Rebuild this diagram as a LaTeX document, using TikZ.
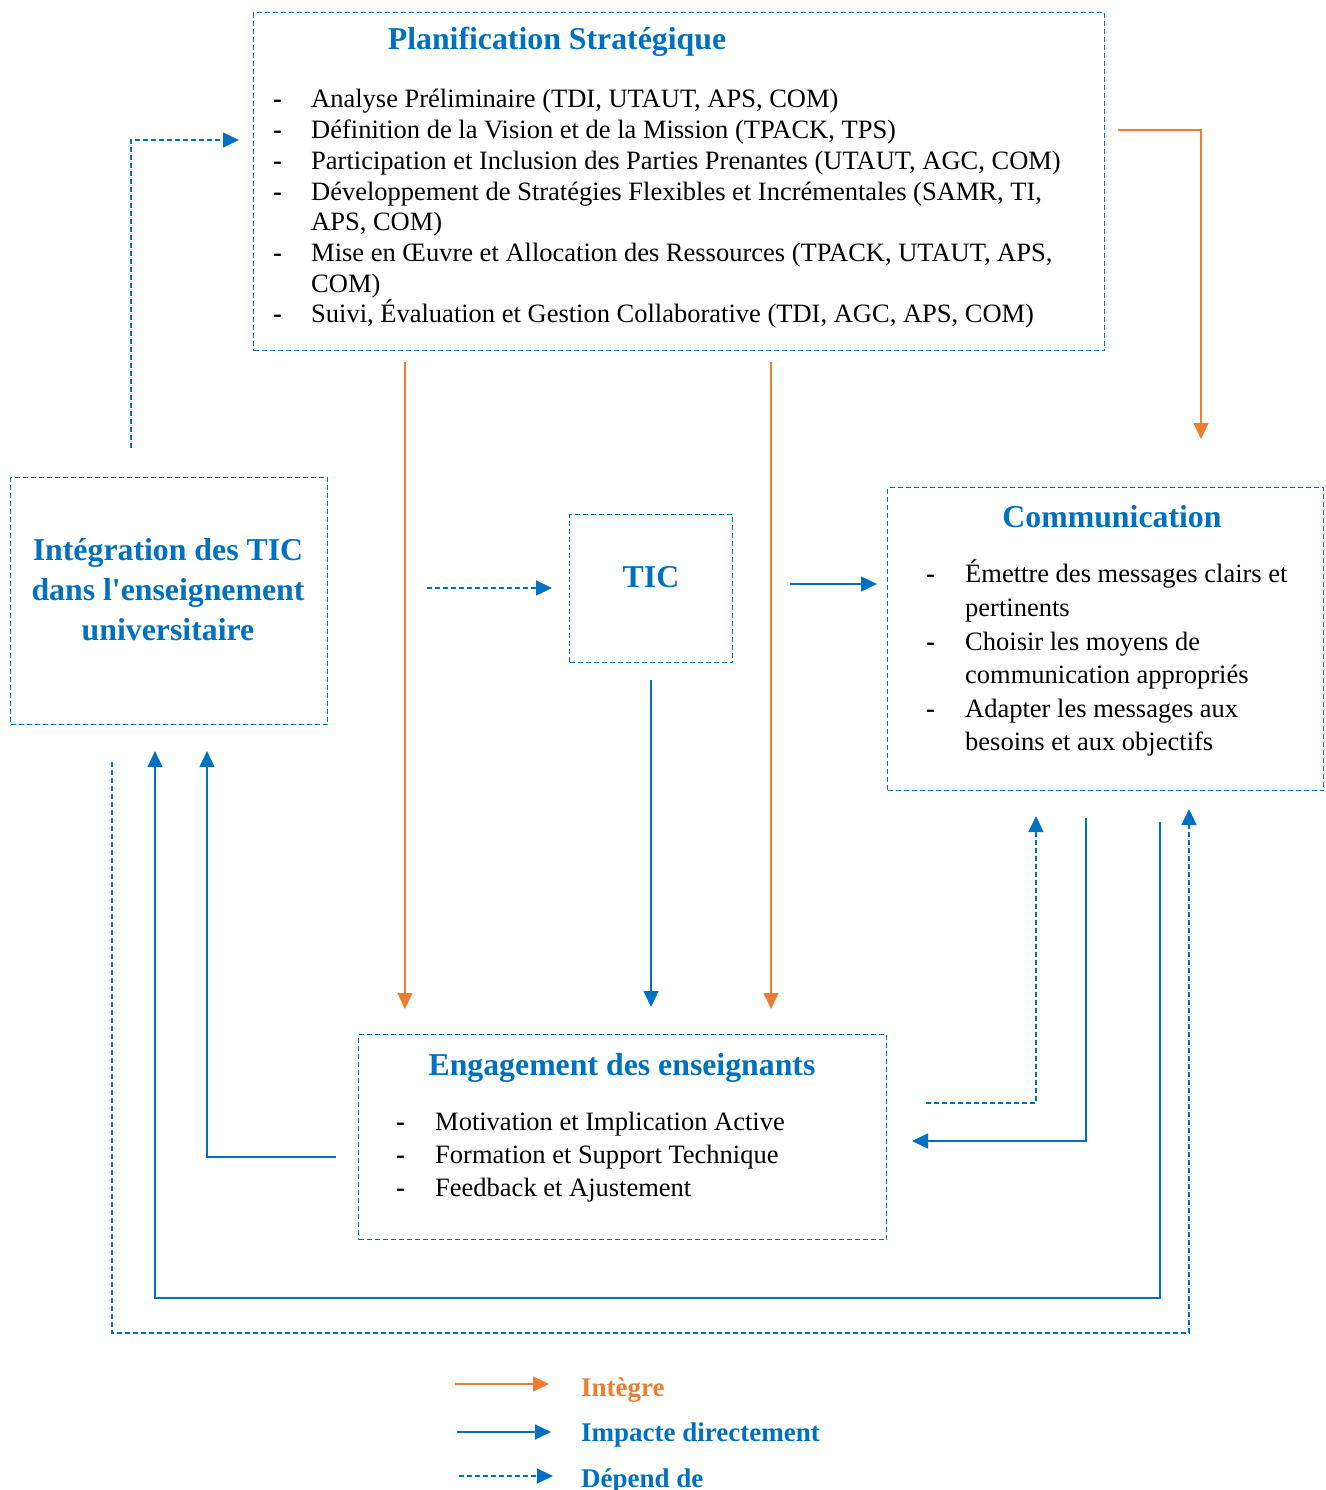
\documentclass[tikz,border=0pt]{standalone}
\usepackage{fontspec}
\setmainfont{Liberation Serif}[Ligatures=TeXOff]
\usetikzlibrary{arrows.meta}
\definecolor{tblue}{HTML}{0070C0}
\definecolor{torange}{HTML}{ED7D31}
\begin{document}
\begin{tikzpicture}[x=1pt,y=-1pt,
  box/.style={draw=tblue, line width=1.1pt, dash pattern=on 5pt off 3pt,
    anchor=north west, inner sep=0pt},
  ttl/.style={anchor=base, text=tblue, font=\fontsize{31.8}{36}\selectfont\bfseries, inner sep=0pt},
  itm/.style={anchor=base west, font=\fontsize{26.5}{31}\selectfont, inner sep=0pt},
  dsh/.style={anchor=base west, font=\fontsize{26.5}{31}\selectfont\bfseries, inner sep=0pt},
  tip/.style={-{Triangle[length=16pt,width=15pt]}},
  integ/.style={tip, draw=torange, line width=1.1pt},
  impact/.style={tip, draw=tblue, line width=1.2pt},
  dep/.style={tip, draw=tblue, line width=1.1pt, dash pattern=on 5pt off 3pt},
  lgd/.style={anchor=base west, font=\fontsize{27}{31}\selectfont\bfseries, inner sep=0pt}]
\useasboundingbox (0,0) rectangle (1325,1490);

% ---------- boxes ----------
\node[box, minimum width=851pt, minimum height=338pt] (plan) at (253,12) {};
\node[box, minimum width=317pt, minimum height=247pt] (integ) at (10,477) {};
\node[box, minimum width=163pt, minimum height=148pt] (tic) at (569,514) {};
\node[box, minimum width=436pt, minimum height=303pt] (comm) at (887,487) {};
\node[box, minimum width=528pt, minimum height=205pt] (eng) at (358,1034) {};

% ---------- Planification Stratégique ----------
\node[ttl] (planT) at (557,50) {Planification Stratégique};
\foreach \y/\t [count=\i] in {
  108/{Analyse Préliminaire (TDI, UTAUT, APS, COM)},
  138.7/{Définition de la Vision et de la Mission (TPACK, TPS)},
  169.4/{Participation et Inclusion des Parties Prenantes (UTAUT, AGC, COM)},
  200.1/{Développement de Stratégies Flexibles et Incrémentales (SAMR, TI,},
  261.5/{Mise en Œuvre et Allocation des Ressources (TPACK, UTAUT, APS,},
  322.9/{Suivi, Évaluation et Gestion Collaborative (TDI, AGC, APS, COM)}}
  {\node[dsh] (planD\i) at (273,\y) {-};
   \node[itm] (planL\i) at (311,\y) {\t};}
\node[itm] (planL4b) at (311,230.8) {APS, COM)};
\node[itm] (planL5b) at (311,292.2) {COM)};

% ---------- Intégration des TIC ----------
\node[ttl] (integT1) at (168,560) {Intégration des TIC};
\node[ttl] (integT2) at (168,600) {dans l'enseignement};
\node[ttl] (integT3) at (168,640) {universitaire};

% ---------- TIC ----------
\node[ttl] (ticT) at (651,587) {TIC};

% ---------- Communication ----------
\node[ttl] (commT) at (1112,527) {Communication};
\foreach \y [count=\i] in {582,650,717}
  {\node[dsh] (commD\i) at (926,\y) {-};}
\node[itm] (commL1) at (965,582) {Émettre des messages clairs et};
\node[itm] (commL1b) at (965,616) {pertinents};
\node[itm] (commL2) at (965,650) {Choisir les moyens de};
\node[itm] (commL2b) at (965,683) {communication appropriés};
\node[itm] (commL3) at (965,717) {Adapter les messages aux};
\node[itm] (commL3b) at (965,750) {besoins et aux objectifs};

% ---------- Engagement des enseignants ----------
\node[ttl] (engT) at (622,1075) {Engagement des enseignants};
\foreach \y/\t [count=\i] in {
  1130/{Motivation et Implication Active},
  1163/{Formation et Support Technique},
  1196/{Feedback et Ajustement}}
  {\node[dsh] (engD\i) at (396,\y) {-};
   \node[itm] (engL\i) at (435,\y) {\t};}

% ---------- connector ends ----------
\coordinate (c1s) at (131,448);   \coordinate (c1e) at (239,140);
\coordinate (c2s) at (1118,130);  \coordinate (c2e) at (1201,439);
\coordinate (c3s) at (405,362);   \coordinate (c3e) at (405,1009);
\coordinate (c4s) at (771,362);   \coordinate (c4e) at (771,1009);
\coordinate (c5s) at (427,588);   \coordinate (c5e) at (552,588);
\coordinate (c6s) at (790,584);   \coordinate (c6e) at (877,584);
\coordinate (c7s) at (651,680);   \coordinate (c7e) at (651,1007);
\coordinate (c8s) at (336,1157);  \coordinate (c8e) at (207,751);
\coordinate (c9s) at (1160,822);  \coordinate (c9m) at (1160,1298); \coordinate (c9e) at (155,751);
\coordinate (c10s) at (112,762); \coordinate (c10m) at (112,1333); \coordinate (c10e) at (1189,809);
\coordinate (c11s) at (926,1103); \coordinate (c11e) at (1036,816);
\coordinate (c12s) at (1086,818); \coordinate (c12e) at (912,1141);

% ---------- connectors ----------
\draw[dep] (c1s) |- (c1e);
\draw[integ] (c2s) -| (c2e);
\draw[integ] (c3s) -- (c3e);
\draw[integ] (c4s) -- (c4e);
\draw[dep] (c5s) -- (c5e);
\draw[impact] (c6s) -- (c6e);
\draw[impact] (c7s) -- (c7e);
\draw[impact] (c8s) -| (c8e);
\draw[impact] (c9s) -- (c9m) -| (c9e);
\draw[dep] (c10s) -- (c10m) -| (c10e);
\draw[dep] (c11s) -| (c11e);
\draw[impact] (c12s) |- (c12e);

% ---------- legend ----------
\coordinate (l1s) at (455,1384); \coordinate (l1e) at (549,1384);
\coordinate (l2s) at (457,1432); \coordinate (l2e) at (551,1432);
\coordinate (l3s) at (459,1476); \coordinate (l3e) at (553,1476);
\draw[integ] (l1s) -- (l1e);
\draw[impact] (l2s) -- (l2e);
\draw[dep] (l3s) -- (l3e);
\node[lgd, text=torange] (lg1) at (581,1396) {Intègre};
\node[lgd, text=tblue] (lg2) at (581,1441) {Impacte directement};
\node[lgd, text=tblue] (lg3) at (581,1487) {Dépend de};
\end{tikzpicture}
\end{document}
